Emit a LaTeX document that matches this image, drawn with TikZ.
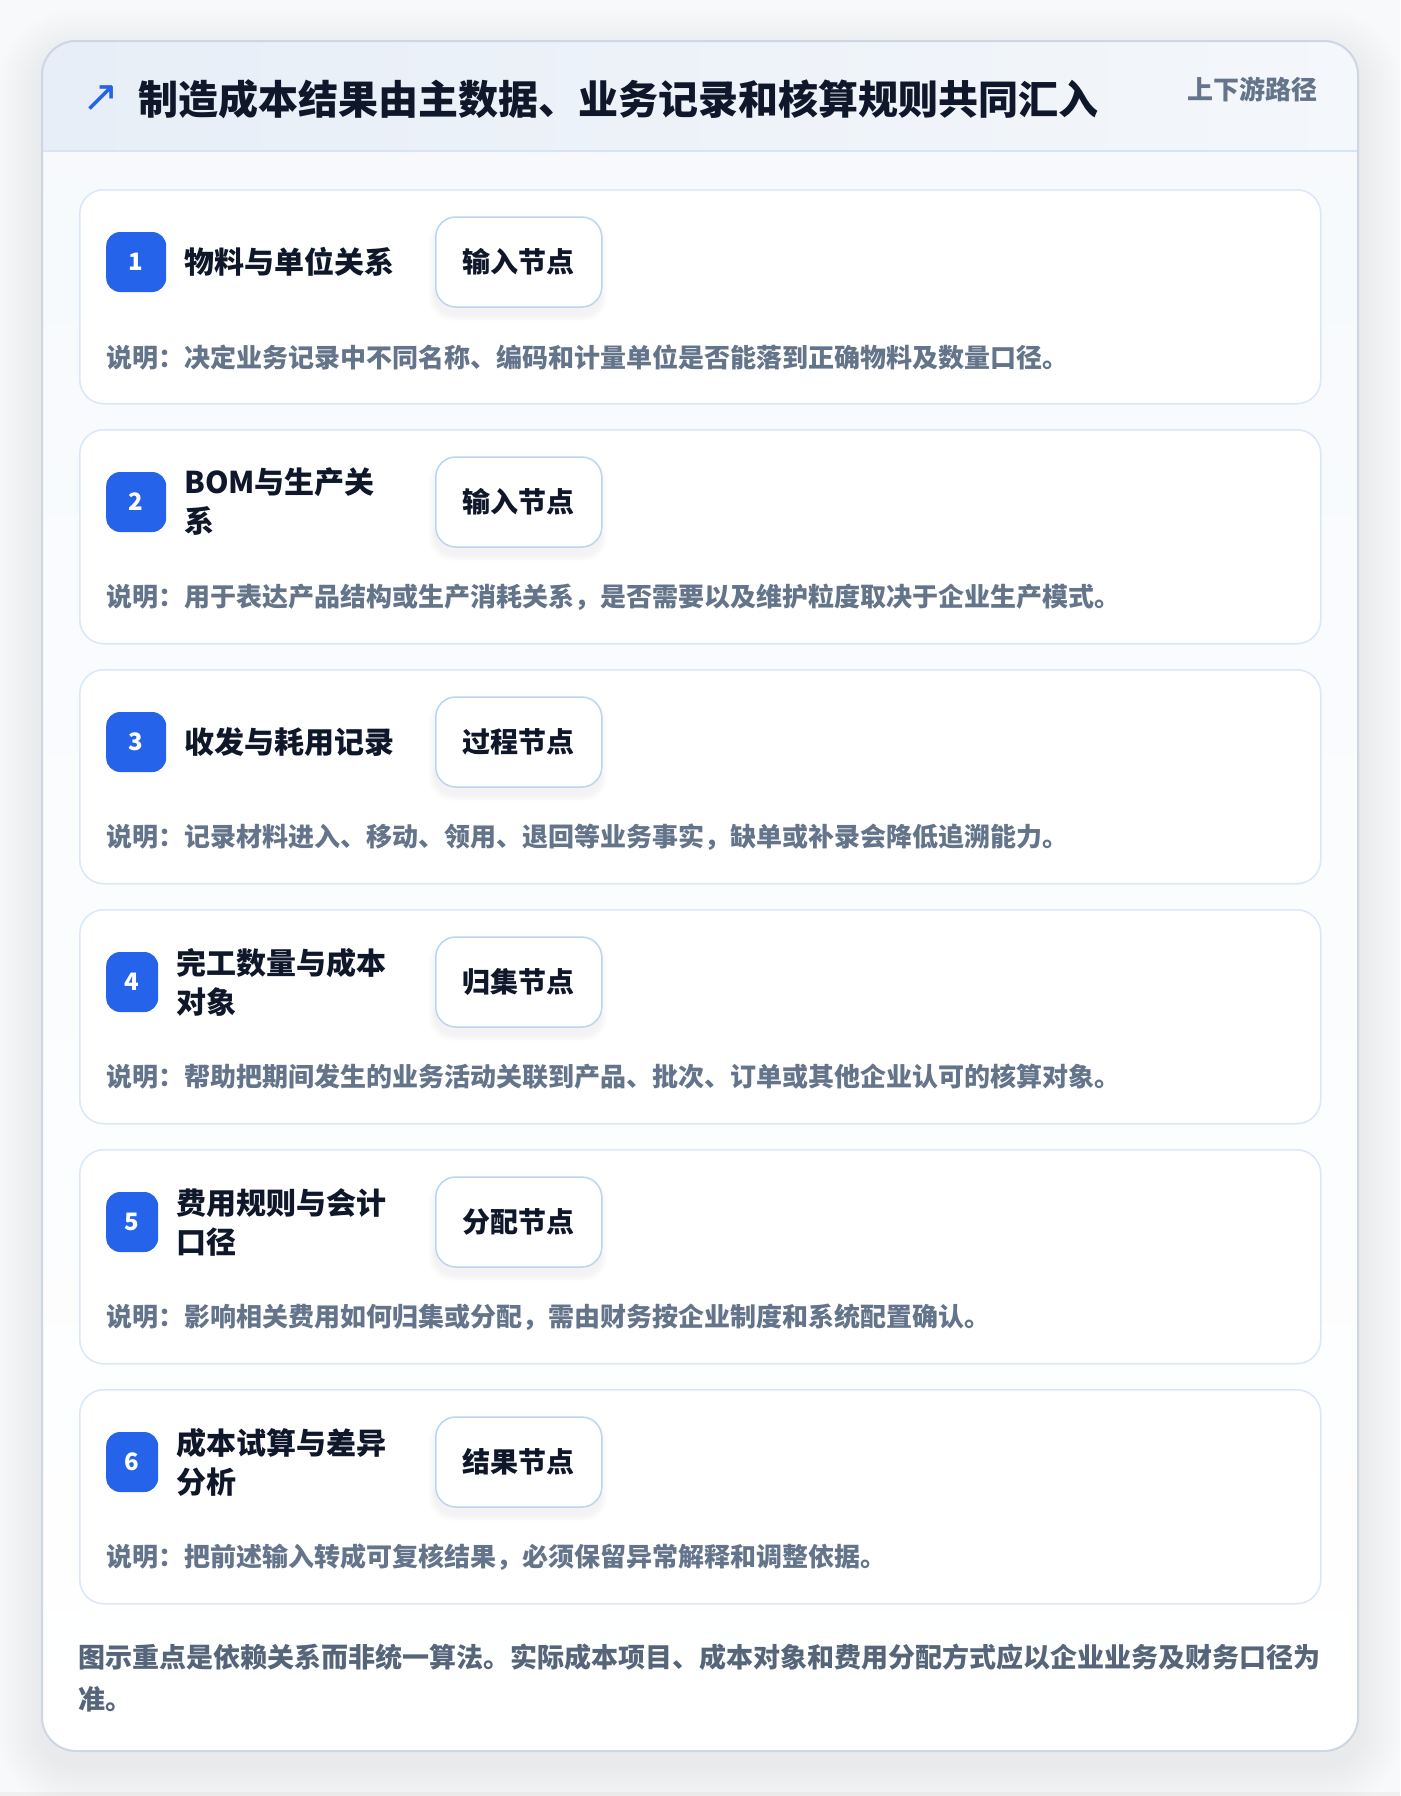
\documentclass[tikz,border=0pt]{standalone}
\usepackage{fontspec}
\setmainfont{Noto Sans CJK SC}
\newfontfamily\symfont{DejaVu Sans}
\usetikzlibrary{positioning}

\definecolor{pagebg}{HTML}{F8F9FB}
\definecolor{bodytop}{HTML}{F6F9FD}
\definecolor{hdrleft}{HTML}{E7EEF7}
\definecolor{hdrright}{HTML}{F4F7FB}
\definecolor{hdrline}{HTML}{D6E4F5}
\definecolor{outline}{HTML}{CDD6E2}
\definecolor{cardline}{HTML}{DAE7F8}
\definecolor{tagline}{HTML}{BCD4F3}
\definecolor{badgeblue}{HTML}{2563EB}
\definecolor{titleink}{HTML}{0F172A}
\definecolor{muted}{HTML}{64748B}
\definecolor{notegray}{HTML}{56657A}

\tikzset{
  stepcard/.style={draw=cardline,line width=1.5pt,fill=white,rounded corners=24pt,
    anchor=north west,minimum width=1241pt,minimum height=214pt,inner sep=0pt},
  badge/.style={fill=badgeblue,rounded corners=14pt,text=white,anchor=west,
    minimum width=#1,minimum height=60pt,inner sep=0pt,
    font=\bfseries\fontsize{24}{24}\selectfont},
  tagbox/.style={draw=tagline,line width=1.5pt,fill=white,rounded corners=20pt,
    anchor=west,minimum width=166pt,minimum height=90pt,inner sep=0pt,
    text=titleink,font=\bfseries\fontsize{28}{28}\selectfont},
  steptitle/.style={anchor=west,align=left,inner sep=0pt,text=titleink,
    font=\bfseries\fontsize{30}{39}\selectfont},
  stepdesc/.style={anchor=west,inner sep=0pt,text=muted,
    font=\bfseries\fontsize{26}{26}\selectfont}
}

\begin{document}
\begin{tikzpicture}[x=1pt,y=-1pt]
  \useasboundingbox[fill=pagebg] (0,0) rectangle (1400,1796);
  \fill[black!6] (0,1792) rectangle (1400,1796);
  % soft shadow of the panel
  \foreach \s in {3,6,...,45}{
    \pgfmathsetmacro\rr{34+\s}
    \fill[black,opacity=0.0035,rounded corners=\rr pt] (42-\s,41-\s+14) rectangle (1358+\s,1751+\s+14);
  }
  % panel body and header
  \begin{scope}
    \clip[rounded corners=34pt] (42,41) rectangle (1358,1751);
    \shade[top color=bodytop,bottom color=white] (42,41) rectangle (1358,1751);
    \shade[left color=hdrleft,right color=hdrright] (42,41) rectangle (1358,151);
  \end{scope}
  \draw[hdrline,line width=2pt] (43,151) -- (1357,151);
  \draw[outline,line width=2pt,rounded corners=34pt] (42,41) rectangle (1358,1751);

  \node[text=badgeblue,font=\symfont\fontsize{44}{44}\selectfont,inner sep=0pt] (icon) at (101,99) {↗};
  \node[anchor=west,inner sep=0pt,text=titleink,font=\bfseries\fontsize{40}{40}\selectfont] (heading) at (138,99)
    {制造成本结果由主数据、业务记录和核算规则共同汇入};
  \node[anchor=east,inner sep=0pt,text=muted,font=\bfseries\fontsize{26}{26}\selectfont] (tagline) at (1318,89) {上下游路径};

  % steps
  \foreach \n/\bw/\ttl/\tagtxt/\dsc [count=\i from 0] in {
    1/60/{物料与单位关系}/输入节点/{说明：决定业务记录中不同名称、编码和计量单位是否能落到正确物料及数量口径。},
    2/60/{BOM与生产关\\系}/输入节点/{说明：用于表达产品结构或生产消耗关系，是否需要以及维护粒度取决于企业生产模式。},
    3/60/{收发与耗用记录}/过程节点/{说明：记录材料进入、移动、领用、退回等业务事实，缺单或补录会降低追溯能力。},
    4/52/{完工数量与成本\\对象}/归集节点/{说明：帮助把期间发生的业务活动关联到产品、批次、订单或其他企业认可的核算对象。},
    5/52/{费用规则与会计\\口径}/分配节点/{说明：影响相关费用如何归集或分配，需由财务按企业制度和系统配置确认。},
    6/52/{成本试算与差异\\分析}/结果节点/{说明：把前述输入转成可复核结果，必须保留异常解释和调整依据。}}{
    \pgfmathsetmacro\cardy{189+240*\i}
    \pgfmathsetmacro\midy{\cardy+73}
    \pgfmathsetmacro\titlex{124+\bw}
    \node[stepcard] (card\n) at (79,\cardy) {};
    \node[badge=\bw pt] (badge\n) at (106,\midy) {\n};
    \node[steptitle] (title\n) at (\titlex,\midy) {\ttl};
    \foreach \s in {1,...,6}
      \fill[black,opacity=0.007,rounded corners=22pt] (435-\s,\midy-45+8-\s) rectangle (601+\s,\midy+45+8+\s);
    \node[tagbox] (tag\n) at (435,\midy) {\tagtxt};
    \node[stepdesc] (desc\n) at (106,\cardy+168) {\dsc};
  }

  \node[anchor=west,align=left,inner sep=0pt,text=notegray,font=\bfseries\fontsize{27}{42}\selectfont] (note) at (78,1678)
    {图示重点是依赖关系而非统一算法。实际成本项目、成本对象和费用分配方式应以企业业务及财务口径为\\准。};
\end{tikzpicture}
\end{document}
